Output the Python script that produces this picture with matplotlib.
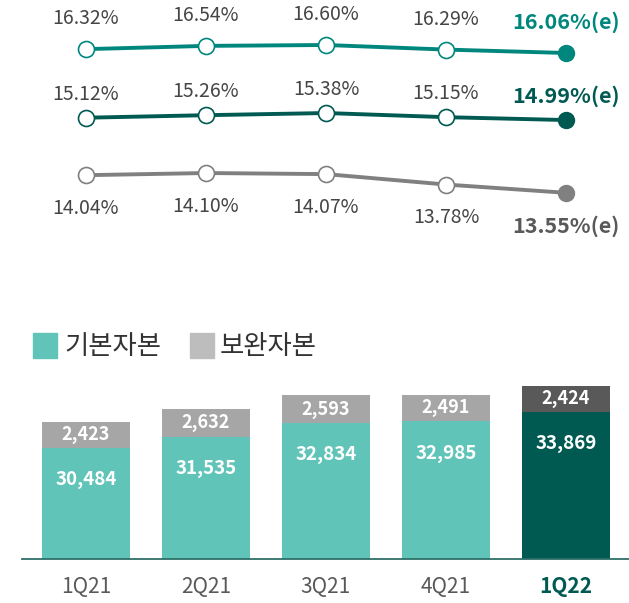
import numpy as np
import matplotlib
matplotlib.use("Agg")
import matplotlib.pyplot as plt

plt.rcParams['font.family'] = ['Noto Sans CJK KR', 'DejaVu Sans']

quarters = ['1Q21', '2Q21', '3Q21', '4Q21', '1Q22']
tier1 = [30484, 31535, 32834, 32985, 33869]      # 기본자본
tier2 = [2423, 2632, 2593, 2491, 2424]           # 보완자본
bis = [16.32, 16.54, 16.60, 16.29, 16.06]
tier1_ratio = [15.12, 15.26, 15.38, 15.15, 14.99]
cet1 = [14.04, 14.10, 14.07, 13.78, 13.55]

W, H = 629, 603
fig = plt.figure(figsize=(W / 100, H / 100), dpi=100)

x = np.arange(len(quarters))
xlim = (-0.533, 4.525)
ax_l, ax_w = 22 / W, (W - 22) / W

# ---- bars ----
axb = fig.add_axes([ax_l, 1 - 559 / H, ax_w, 259 / H])
c_t1 = ['#60C4B8'] * 4 + ['#005A52']
c_t2 = ['#A6A6A6'] * 4 + ['#595959']
axb.bar(x, tier1, width=0.733, color=c_t1)
axb.bar(x, tier2, bottom=tier1, width=0.733, color=c_t2)
axb.set_xlim(*xlim)
axb.set_ylim(20000, 44400)
for i in x:
    axb.text(i, tier1[i] + tier2[i] / 2, f'{tier2[i]:,}', ha='center', va='center',
             color='white', fontsize=13, fontweight='bold')
    axb.annotate(f'{tier1[i]:,}', (i, tier1[i]), xytext=(0, -23), textcoords='offset points',
                 ha='center', va='center', color='white', fontsize=13.5, fontweight='bold')
for s in ['top', 'right', 'left']:
    axb.spines[s].set_visible(False)
axb.spines['bottom'].set_color('#2E6E68')
axb.spines['bottom'].set_linewidth(1.3)
axb.set_yticks([])
axb.set_xticks(x)
axb.set_xticklabels(quarters, fontsize=15, color='#595959')
axb.tick_params(axis='x', length=0, pad=12)
lbl = axb.get_xticklabels()[-1]
lbl.set_fontweight('bold')
lbl.set_color('#005A52')

# legend
fig.patches.append(plt.Rectangle((33 / W, 1 - 358 / H), 24 / W, 25 / H, color='#60C4B8',
                                 transform=fig.transFigure))
fig.patches.append(plt.Rectangle((190 / W, 1 - 358 / H), 24 / W, 25 / H, color='#BDBDBD',
                                 transform=fig.transFigure))
fig.text(64 / W, 1 - 346 / H, '기본자본', fontsize=19, color='#333333', va='center')
fig.text(220 / W, 1 - 346 / H, '보완자본', fontsize=19, color='#333333', va='center')

# ---- lines ----
series = [
    (bis, '#00877D', (2.75, 19.64), 22, '#00877D'),
    (tier1_ratio, '#005A52', (7.77, 21.66), 17, '#005A52'),
    (cet1, '#808080', (11.96, 18.91), -24, '#595959'),
]
for vals, col, ylim, off, ecol in series:
    ax = fig.add_axes([ax_l, 1 - 250 / H, ax_w, 250 / H])
    ax.set_facecolor('none')
    ax.plot(x, vals, color=col, lw=2.8, zorder=2)
    ax.plot(x[:-1], vals[:-1], 'o', ms=11.5, mfc='white', mec=col, mew=1.2, zorder=3)
    ax.plot(x[-1:], vals[-1:], 'o', ms=11.5, mfc=col, mec=col, zorder=3)
    ax.set_xlim(*xlim)
    ax.set_ylim(*ylim)
    ax.axis('off')
    for i in x:
        last = i == len(x) - 1
        ax.annotate(f'{vals[i]:.2f}%' + ('(e)' if last else ''), (i, vals[i]),
                    xytext=(0, off), textcoords='offset points', ha='center', va='center',
                    fontsize=14 if not last else 15.5, color=ecol if last else '#454545',
                    fontweight='bold' if last else 'normal')

fig.savefig('out.png', dpi=100)
